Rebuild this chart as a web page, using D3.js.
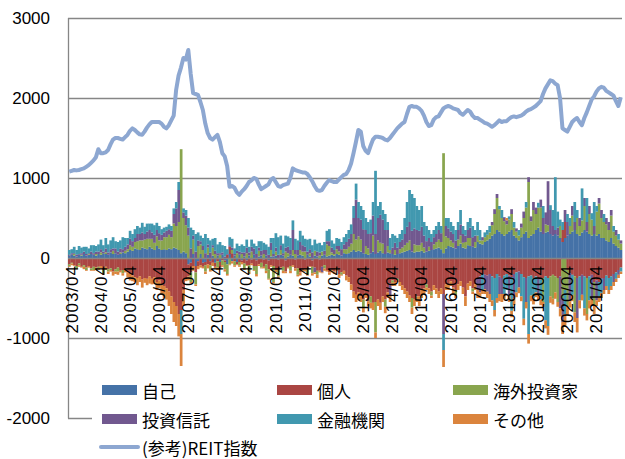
<!DOCTYPE html>
<html>
<head>
<meta charset="utf-8">
<script src="https://cdn.jsdelivr.net/npm/d3@7"></script>
<style>
  html, body { margin: 0; padding: 0; background: #fff; }
  #chart { width: 625px; height: 459px; }
  text { font-family: "Liberation Sans", Arial, sans-serif; fill: #000; }
  .legend text { font-family: "Noto Sans CJK JP", "Noto Sans", sans-serif; }
</style>
</head>
<body>
<div id="chart"></div>
<script>
// Monthly values, fiscal years Apr..Mar (2003/04 - 2022/03), one row per year
const jiko = [
  30,40,30,20,40,30,50,30,40,50,40,30,
  50,40,60,50,40,70,50,60,40,50,70,60,
  80,100,90,120,110,100,130,120,110,140,120,100,
  150,120,100,110,100,120,110,130,120,100,60,80,
  60,-80,-60,50,-100,-40,50,-60,-50,40,-40,30,
  -60,30,-50,40,-30,-80,50,-40,30,-50,40,-30,
  20,-30,30,-20,40,-30,20,30,-20,30,-30,20,
  20,30,-20,40,30,-30,20,40,30,-20,30,40,
  30,-20,40,20,-30,30,20,-20,30,40,20,30,
  40,30,50,40,30,60,50,60,80,100,80,90,
  80,60,50,40,60,80,50,70,90,60,50,70,
  60,50,40,50,60,70,80,90,100,80,70,80,
  80,90,70,80,90,100,110,120,130,110,60,120,
  150,140,130,120,150,180,130,120,160,150,140,130,
  200,180,170,200,220,240,280,300,350,330,300,280,
  300,330,350,280,250,220,260,300,330,250,280,300,
  350,380,330,300,320,330,300,280,300,280,250,200,
  250,280,300,330,350,300,280,320,350,330,300,280,
  300,280,300,250,250,220,200,250,180,150,130,100
];
const kojin = [
  -80,-60,-90,-100,-70,-110,-90,-120,-100,-130,-110,-120,
  -110,-100,-150,-110,-140,-130,-170,-140,-120,-160,-150,-130,
  -180,-200,-220,-240,-250,-230,-270,-250,-260,-230,-260,-240,
  -300,-280,-330,-350,-380,-420,-480,-550,-600,-700,-650,-400,
  -250,-150,-120,-100,-80,-60,-90,-50,-40,-80,-50,-60,
  -50,-40,-70,-30,-20,40,90,60,-40,-30,-50,-20,
  -70,-60,-90,-50,-100,-70,-80,-60,-90,-80,-110,-90,
  -100,-150,-130,-120,-110,-140,-120,-100,-90,-110,-130,-180,
  -150,-120,-140,-100,-80,-120,-160,-140,-110,-90,-150,-180,
  -150,-170,-130,-200,-180,-160,-220,-240,-330,-420,-460,-430,
  -480,-520,-440,-540,-480,-560,-550,-520,-560,-480,-520,-430,
  -320,-280,-300,-260,-300,-340,-380,-420,-470,-500,-520,-480,
  -480,-400,-380,-330,-380,-420,-340,-380,-420,-380,-450,-330,
  -330,-290,-370,-400,-330,-290,-370,-480,-320,-290,-380,-330,
  -250,-230,-200,-210,-220,-200,-230,-250,-200,-230,-250,-220,
  -200,-220,-240,-200,-180,-170,-200,-240,-250,-230,-220,-250,
  -230,-250,-270,-250,-230,-250,-230,-210,-230,-250,-230,150,
  200,-150,-190,-210,-230,-250,-230,-210,-230,-250,-230,-210,
  -300,-280,-300,-260,-250,-220,-250,-230,-200,-180,-150,-120
];
const kaigai = [
  -20,-10,20,-30,-20,10,-20,-30,10,-20,-40,20,
  -20,30,-40,20,-30,-20,40,-30,-50,20,-40,30,
  30,60,50,80,100,120,90,110,130,100,120,90,
  120,100,120,150,160,170,150,300,280,350,1300,420,
  350,280,-120,180,-150,150,120,100,-80,90,-60,100,
  50,-80,40,-60,-90,-120,-80,40,-50,60,-40,50,
  -60,60,-80,80,-50,-100,70,-60,50,-80,-120,80,
  -200,50,-80,60,-50,80,40,-60,70,50,-80,60,
  50,80,-60,40,-80,60,-50,30,50,-40,150,120,
  30,20,60,40,-30,50,60,80,100,200,150,180,
  150,-100,100,80,-80,200,-380,150,100,120,-90,80,
  40,-30,60,-20,50,60,80,100,120,-120,100,80,
  80,100,60,-40,50,-50,60,80,100,90,1250,150,
  100,80,60,-50,80,100,60,80,90,100,-40,70,
  80,40,50,60,70,80,130,250,400,280,200,180,
  120,150,200,100,80,60,120,200,300,700,180,300,
  200,250,300,-300,100,80,-250,-300,-200,-300,150,-500,
  -400,-450,100,200,-450,200,120,150,300,-450,250,200,
  -300,300,380,250,200,200,150,280,150,130,100,80
];
const toshin = [
  10,20,10,20,10,20,30,20,10,30,20,30,
  30,40,20,50,30,40,30,60,40,50,40,50,
  60,80,70,50,90,80,100,70,90,110,80,100,
  80,90,70,60,80,70,80,120,220,400,0,70,
  120,100,120,50,80,70,40,50,60,40,70,30,
  40,30,20,30,20,10,20,30,20,30,40,20,
  50,70,40,60,80,50,40,60,50,70,40,90,
  30,50,40,60,30,50,80,60,250,50,70,100,
  80,60,40,50,70,-60,60,40,-70,50,40,60,
  60,50,40,70,80,60,90,100,120,200,500,230,
  250,300,200,180,250,250,250,280,350,300,300,200,
  -150,80,90,80,90,100,140,200,230,260,200,190,
  180,200,150,130,110,100,90,100,120,110,-500,130,
  120,110,110,100,120,140,110,80,100,130,120,80,
  -150,-200,40,-180,-200,-250,40,60,50,-220,-200,50,
  50,-250,60,-300,40,-200,50,80,-300,60,60,100,
  80,-200,100,200,150,550,300,120,50,100,-400,-300,
  150,170,-350,120,100,-500,100,-250,100,120,100,-300,
  100,-250,70,100,-150,80,100,70,-100,70,-60,40
];
const kinyu = [
  60,50,80,60,100,70,60,90,60,80,100,70,
  90,120,80,130,100,110,140,90,120,100,150,110,
  80,100,90,110,100,80,120,90,100,80,110,120,
  90,90,70,60,50,60,60,70,80,100,-300,50,
  70,120,260,70,220,100,70,100,240,80,150,80,
  160,110,140,90,130,60,100,110,70,90,70,100,
  80,100,70,90,60,100,80,120,90,70,100,60,
  200,180,220,120,120,150,130,150,120,140,120,140,
  120,100,150,130,90,140,100,120,80,110,130,150,
  90,80,100,90,90,90,100,110,120,150,200,200,
  170,240,150,150,170,170,790,150,160,120,200,100,
  150,170,90,120,100,120,200,310,400,460,380,300,
  260,260,170,190,100,100,90,100,100,90,-200,100,
  130,120,100,130,100,180,100,70,100,120,140,70,
  170,130,-200,60,60,80,-300,-400,-300,40,100,-230,
  -200,40,-420,70,-250,70,-280,-520,70,-720,-250,-250,
  -200,60,-250,150,-550,-600,60,200,660,200,80,100,
  -300,100,100,-250,250,100,-300,400,-400,300,-300,80,
  300,70,-180,-180,100,-130,-150,-120,70,-80,70,-50
];
const sonota = [
  -10,-20,-10,-10,-20,-10,-30,-10,-20,-10,-10,-20,
  -20,-30,-20,-40,-30,-20,-50,-30,-40,-20,-30,-50,
  -60,-80,-70,-60,-90,-70,-100,-60,-80,-90,-70,-80,
  -100,-100,-120,-150,-140,-180,-220,-250,-250,-280,-400,-200,
  -40,-50,-20,-60,-20,-40,-30,-20,-30,-50,-20,-40,
  -20,-30,-10,-20,-30,-20,-10,-30,-20,-10,-20,-30,
  -20,-10,-30,-20,-10,-30,-20,-10,-20,-30,-10,-20,
  -20,-30,-20,-10,-30,-20,-10,-30,-20,-30,-20,-40,
  -20,-30,-20,-10,-30,-20,-40,-20,-10,-30,-20,-30,
  -30,-30,-30,-50,-10,-40,-60,-60,-70,-80,-90,-90,
  -70,-60,-60,-60,-70,-90,-70,-80,-90,-70,-80,-70,
  -80,-40,-50,-20,-50,-60,-70,-80,-80,-80,-80,-70,
  -120,-100,-70,-30,-70,-30,-60,-70,-80,-70,-250,-70,
  -70,-60,-80,-50,-70,-60,-80,-120,-80,-60,-30,-70,
  -100,-70,-50,-60,-80,-100,-70,-80,-60,-90,-100,-60,
  30,-80,-80,-90,-60,-70,-60,-80,-80,-120,-70,-80,
  -60,-80,-70,-60,-100,-110,-80,-70,-80,-60,-100,-150,
  -150,-120,-80,-80,-120,-180,-100,-70,-90,-80,-100,-80,
  -100,-70,-70,-60,-50,-50,-50,-50,-50,-40,-40,-30
];
const reit = [
  1080,1090,1100,1095,1100,1110,1120,1140,1160,1190,1220,1260,
  1360,1310,1310,1320,1350,1420,1480,1500,1500,1490,1480,1510,
  1540,1590,1620,1600,1570,1545,1540,1580,1630,1670,1700,1700,
  1700,1700,1680,1640,1620,1660,1720,1780,2100,2280,2380,2500,
  2480,2600,2300,2060,2050,2040,1950,1850,1680,1560,1500,1480,
  1510,1540,1450,1310,1270,1150,890,900,880,820,790,830,
  860,900,950,970,1000,990,920,860,880,900,920,980,
  1000,950,900,890,910,920,930,1000,1120,1100,1090,1080,
  1070,1070,1050,1010,960,900,850,840,850,900,940,975,
  960,950,950,980,1010,1040,1050,1100,1180,1310,1450,1600,
  1580,1400,1340,1310,1400,1480,1515,1515,1510,1500,1480,1470,
  1500,1540,1580,1620,1650,1680,1700,1800,1890,1900,1890,1890,
  1870,1840,1780,1700,1650,1660,1730,1760,1770,1820,1870,1890,
  1900,1890,1870,1860,1850,1810,1790,1820,1850,1830,1780,1750,
  1750,1730,1710,1690,1680,1660,1640,1660,1690,1720,1700,1710,
  1710,1740,1760,1770,1760,1770,1780,1800,1830,1850,1860,1880,
  1900,1930,1960,2050,2120,2170,2220,2210,2180,2160,2000,1620,
  1600,1580,1640,1700,1730,1750,1700,1660,1750,1820,1900,1980,
  2020,2080,2120,2140,2130,2090,2070,2050,2030,1960,1900,2010
];

const seriesKeys = ["jiko", "kojin", "kaigai", "toshin", "kinyu", "sonota"];
const seriesNames = ["自己", "個人", "海外投資家", "投資信託", "金融機関", "その他"];
const seriesColors = ["#4572A7", "#AA4643", "#89A54E", "#71588F", "#4198AF", "#DB843D"];
const lineName = "(参考)REIT指数";
const yTicks = [-2000, -1000, 0, 1000, 2000, 3000];
const yearLabels = ["2003/04", "2004/04", "2005/04", "2006/04", "2007/04", "2008/04", "2009/04",
  "2010/04", "2011/04", "2012/04", "2013/04", "2014/04", "2015/04", "2016/04", "2017/04",
  "2018/04", "2019/04", "2020/04", "2021/04"];

// month categories 2003/04 .. 2022/03
const months = [];
for (let i = 0; i < jiko.length; i++) {
  const y = 2003 + Math.floor((i + 3) / 12);
  const m = ((i + 3) % 12) + 1;
  months.push(`${y}/${String(m).padStart(2, "0")}`);
}

const config = {
  width: 625,
  height: 459,
  left: 68,
  right: 622,
  top: 18,
  bottom: 418,
  gridColor: "#868686",
  lineColor: "#8DA7D1"
};

const svg = d3.select("#chart").append("svg")
  .attr("width", config.width)
  .attr("height", config.height);

const x = d3.scaleBand()
  .domain(months)
  .range([config.left, config.right])
  .padding(0);

const y = d3.scaleLinear()
  .domain([-2000, 3000])
  .range([config.bottom, config.top]);

// gridlines
svg.append("g").selectAll("line")
  .data(yTicks)
  .join("line")
  .attr("x1", config.left).attr("x2", config.right)
  .attr("y1", d => Math.round(y(d)) + 0.5).attr("y2", d => Math.round(y(d)) + 0.5)
  .attr("stroke", config.gridColor)
  .attr("stroke-width", 1.3);

// y axis line
svg.append("line")
  .attr("x1", config.left + 0.5).attr("x2", config.left + 0.5)
  .attr("y1", y(3000)).attr("y2", y(-2000) + 0.5)
  .attr("stroke", config.gridColor)
  .attr("stroke-width", 1.3);

// y labels
const yAxis = svg.append("g")
  .attr("transform", `translate(${config.left},0)`)
  .call(d3.axisLeft(y).tickValues(yTicks).tickSize(0).tickPadding(18).tickFormat(d => String(d)));
yAxis.select(".domain").remove();
yAxis.selectAll("text")
  .style("font-family", "'Liberation Sans', Arial, sans-serif")
  .style("font-size", "17px")
  .attr("fill", "#000");

// stacked bars
const rows = months.map((m, i) => ({
  month: m, jiko: jiko[i], kojin: kojin[i], kaigai: kaigai[i],
  toshin: toshin[i], kinyu: kinyu[i], sonota: sonota[i]
}));
const stacked = d3.stack().keys(seriesKeys).offset(d3.stackOffsetDiverging)(rows);

svg.append("g").selectAll("g")
  .data(stacked)
  .join("g")
  .attr("fill", (d, i) => seriesColors[i])
  .selectAll("rect")
  .data(d => d)
  .join("rect")
  .attr("x", d => x(d.data.month))
  .attr("width", x.bandwidth() + 0.3)
  .attr("y", d => y(Math.max(d[0], d[1])))
  .attr("height", d => Math.abs(y(d[0]) - y(d[1])));

// zero axis over the bars
svg.append("line")
  .attr("x1", config.left).attr("x2", config.right)
  .attr("y1", Math.round(y(0)) + 0.5).attr("y2", Math.round(y(0)) + 0.5)
  .attr("stroke", config.gridColor)
  .attr("stroke-width", 1.3);

// x labels, rotated, hanging below zero
svg.append("g").selectAll("text")
  .data(yearLabels)
  .join("text")
  .attr("transform", d => `translate(${x(d) + 4},${y(0) + 7}) rotate(-90)`)
  .attr("text-anchor", "end")
  .attr("dominant-baseline", "central")
  .style("font-size", "17px")
  .style("letter-spacing", "1px")
  .text(d => d);

// REIT line
const line = d3.line()
  .x((d, i) => x(months[i]) + x.bandwidth() / 2)
  .y(d => y(d))
  .curve(d3.curveLinear);

svg.append("path")
  .datum(reit)
  .attr("fill", "none")
  .attr("stroke", config.lineColor)
  .attr("stroke-width", 4)
  .attr("stroke-linejoin", "round")
  .attr("d", line);

// legend
const legend = svg.append("g").attr("class", "legend");
legend.append("rect")
  .attr("x", 92).attr("y", 367)
  .attr("width", config.width - 92).attr("height", config.height - 367)
  .attr("fill", "#fff");

const colX = [102, 277, 453];
const rowY = [390, 419, 447];
seriesNames.forEach((name, i) => {
  const cx = colX[i % 3], cy = rowY[Math.floor(i / 3)];
  legend.append("rect")
    .attr("x", cx).attr("y", cy - 5)
    .attr("width", 35).attr("height", 10)
    .attr("fill", seriesColors[i]);
  legend.append("text")
    .attr("x", cx + 40).attr("y", cy)
    .attr("dominant-baseline", "central")
    .style("font-size", "17px")
    .text(name);
});
legend.append("line")
  .attr("x1", 101).attr("x2", 138)
  .attr("y1", rowY[2]).attr("y2", rowY[2])
  .attr("stroke", config.lineColor)
  .attr("stroke-width", 4)
  .attr("stroke-linecap", "round");
legend.append("text")
  .attr("x", 142).attr("y", rowY[2])
  .attr("dominant-baseline", "central")
  .style("font-size", "17px")
  .text(lineName);
</script>
</body>
</html>
